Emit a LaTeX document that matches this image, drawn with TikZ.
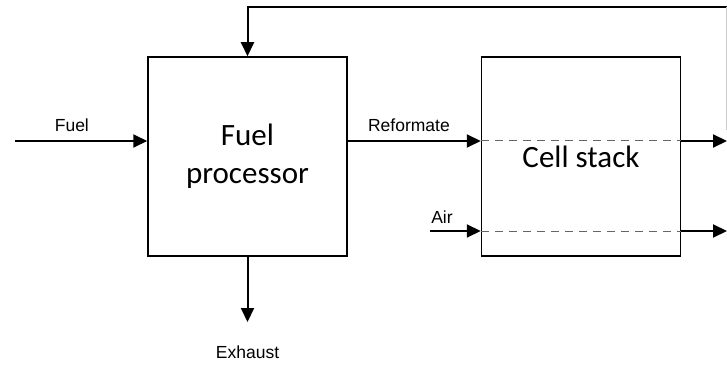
\documentclass[tikz,border=0pt]{standalone}
\usepackage{fontspec}
\setmainfont{Liberation Sans}
\newfontfamily\boxfont{Carlito}
\usepackage{tikz}
\usetikzlibrary{arrows.meta,positioning,calc}

\begin{document}
\begin{tikzpicture}[x=1pt,y=-1pt,>={Triangle[length=14pt,width=13pt]},node distance=133pt,
  blockbox/.style={draw,line width=1.5pt,minimum width=199pt,minimum height=199pt,inner sep=0pt,align=center,font=\boxfont\fontsize{31}{38}\selectfont},
  flow/.style={->,line width=2pt},
  lab/.style={font=\fontsize{17.5}{20}\selectfont,anchor=base},
  gas/.style={dash pattern=on 8pt off 6pt,draw=black!60,line width=1pt}]
\useasboundingbox (0,0) rectangle (727,366);
\node[blockbox] (fp) at (247.5,156.5) {Fuel\\processor};
\node[blockbox,right=of fp] (cs) {Cell stack};
% inlets and outlets
\coordinate (fuelin) at (15,141);
\coordinate (airin) at (430,231);
\coordinate (anodeout) at (727,141);
\coordinate (cathodeout) at (727,231);
\coordinate (exhaust) at (247.5,322);
\coordinate (loop) at (727,7);
\draw[flow] (fuelin) -- node[lab,pos=0.43,yshift=9pt]{Fuel} (fuelin -| fp.west);
\draw[flow] (fuelin -| fp.east) -- node[lab,pos=0.46,yshift=9pt]{Reformate} (fuelin -| cs.west);
\draw[flow] (airin) -- (airin -| cs.west);
\node[lab,yshift=8pt] at ($(airin)+(12,0)$) (airlab) {Air};
\draw[gas] (fuelin -| cs.west) -- (fuelin -| cs.east);
\draw[gas] (airin -| cs.west) -- (airin -| cs.east);
\draw[flow] (fuelin -| cs.east) -- (anodeout);
\draw[flow] (airin -| cs.east) -- (cathodeout);
\draw[flow] (fp.south) -- (exhaust);
\node[lab] at ($(exhaust)+(0,36)$) (exlab) {Exhaust};
% recycle loop
\draw[flow] (loop) -- (loop -| fp.north) -- (fp.north);
\draw[black!20,line width=0.8pt] (726,7) -- (726,130);
\end{tikzpicture}
\end{document}
